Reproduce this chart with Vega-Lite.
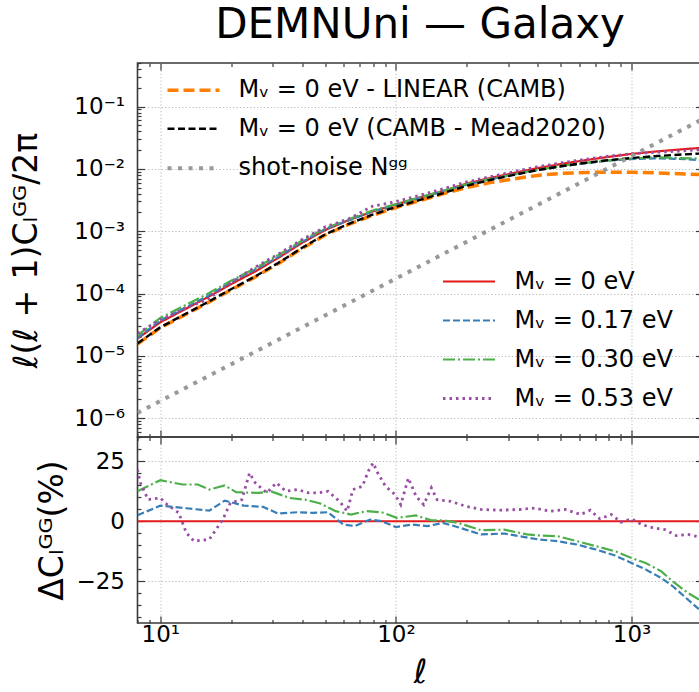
{
  "$schema": "https://vega.github.io/schema/vega-lite/v6.json",
  "autosize": {"type": "pad"},
  "padding": {"left": 9.5, "top": 3, "right": 0, "bottom": 0},
  "config": {
    "font": "DejaVu Sans",
    "view": {"stroke": "#3a3a3a", "strokeWidth": 1.6},
    "axis": {"domain": false, "labelFont": "DejaVu Sans", "labelColor": "#000000", "labelFontSize": 23, "labelOverlap": false, "labelFlush": false, "labelBound": false, "tickColor": "#3a3a3a", "tickWidth": 1.2, "gridColor": "#b0b0b0", "gridDash": [1.2, 2.2], "gridWidth": 0.9, "titleFont": "DejaVu Sans", "titleFontWeight": "normal", "titleColor": "#000000"},
    "legend": {"labelLimit": 0}
  },
  "datasets": {
    "top": [
      {"s":"R","l":8,"v":1.905e-5},{"s":"R","l":10,"v":3.467e-5},{"s":"R","l":12.59,"v":5.495e-5},{"s":"R","l":15.85,"v":8.71e-5},{"s":"R","l":19.95,"v":1.413e-4},{"s":"R","l":25.12,"v":2.239e-4},{"s":"R","l":31.62,"v":3.715e-4},{"s":"R","l":39.81,"v":6.457e-4},{"s":"R","l":50.12,"v":1.047e-3},{"s":"R","l":63.1,"v":1.514e-3},{"s":"R","l":79.43,"v":2.065e-3},{"s":"R","l":100,"v":2.692e-3},{"s":"R","l":125.9,"v":3.451e-3},{"s":"R","l":158.5,"v":4.416e-3},{"s":"R","l":199.5,"v":5.821e-3},{"s":"R","l":251.2,"v":7.161e-3},{"s":"R","l":316.2,"v":8.61e-3},{"s":"R","l":398.1,"v":1.028e-2},{"s":"R","l":501.2,"v":1.197e-2},{"s":"R","l":631,"v":1.374e-2},{"s":"R","l":794.3,"v":1.556e-2},{"s":"R","l":1000,"v":1.738e-2},{"s":"R","l":1259,"v":1.897e-2},{"s":"R","l":1585,"v":2.042e-2},{"s":"R","l":2000,"v":2.188e-2},
      {"s":"B","l":8,"v":1.954e-5},{"s":"B","l":10,"v":3.69e-5},{"s":"B","l":12.59,"v":5.794e-5},{"s":"B","l":15.85,"v":9.099e-5},{"s":"B","l":19.95,"v":1.524e-4},{"s":"B","l":25.12,"v":2.382e-4},{"s":"B","l":31.62,"v":3.837e-4},{"s":"B","l":39.81,"v":6.699e-4},{"s":"B","l":50.12,"v":1.086e-3},{"s":"B","l":63.1,"v":1.486e-3},{"s":"B","l":79.43,"v":2.075e-3},{"s":"B","l":100,"v":2.624e-3},{"s":"B","l":125.9,"v":3.396e-3},{"s":"B","l":158.5,"v":4.385e-3},{"s":"B","l":199.5,"v":5.585e-3},{"s":"B","l":251.2,"v":6.776e-3},{"s":"B","l":316.2,"v":8.11e-3},{"s":"B","l":398.1,"v":9.506e-3},{"s":"B","l":501.2,"v":1.094e-2},{"s":"B","l":631,"v":1.23e-2},{"s":"B","l":794.3,"v":1.349e-2},{"s":"B","l":1000,"v":1.435e-2},{"s":"B","l":1259,"v":1.479e-2},{"s":"B","l":1585,"v":1.449e-2},{"s":"B","l":2000,"v":1.377e-2},
      {"s":"G","l":8,"v":2.143e-5},{"s":"G","l":10,"v":4.064e-5},{"s":"G","l":12.59,"v":6.339e-5},{"s":"G","l":15.85,"v":9.886e-5},{"s":"G","l":19.95,"v":1.603e-4},{"s":"G","l":25.12,"v":2.506e-4},{"s":"G","l":31.62,"v":4.121e-4},{"s":"G","l":39.81,"v":7.031e-4},{"s":"G","l":50.12,"v":1.119e-3},{"s":"G","l":63.1,"v":1.56e-3},{"s":"G","l":79.43,"v":2.153e-3},{"s":"G","l":100,"v":2.729e-3},{"s":"G","l":125.9,"v":3.524e-3},{"s":"G","l":158.5,"v":4.436e-3},{"s":"G","l":199.5,"v":5.702e-3},{"s":"G","l":251.2,"v":6.902e-3},{"s":"G","l":316.2,"v":8.204e-3},{"s":"G","l":398.1,"v":9.661e-3},{"s":"G","l":501.2,"v":1.119e-2},{"s":"G","l":631,"v":1.25e-2},{"s":"G","l":794.3,"v":1.374e-2},{"s":"G","l":1000,"v":1.472e-2},{"s":"G","l":1259,"v":1.535e-2},{"s":"G","l":1585,"v":1.489e-2},{"s":"G","l":2000,"v":1.466e-2},
      {"s":"P","l":8,"v":2.307e-5},{"s":"P","l":10,"v":3.802e-5},{"s":"P","l":12.59,"v":5.715e-5},{"s":"P","l":15.85,"v":8.035e-5},{"s":"P","l":19.95,"v":1.521e-4},{"s":"P","l":25.12,"v":2.618e-4},{"s":"P","l":31.62,"v":4.276e-4},{"s":"P","l":39.81,"v":7.295e-4},{"s":"P","l":50.12,"v":1.175e-3},{"s":"P","l":63.1,"v":1.581e-3},{"s":"P","l":79.43,"v":2.518e-3},{"s":"P","l":100,"v":2.992e-3},{"s":"P","l":125.9,"v":3.758e-3},{"s":"P","l":158.5,"v":4.797e-3},{"s":"P","l":199.5,"v":6.18e-3},{"s":"P","l":251.2,"v":7.499e-3},{"s":"P","l":316.2,"v":9.016e-3},{"s":"P","l":398.1,"v":1.081e-2},{"s":"P","l":501.2,"v":1.25e-2},{"s":"P","l":631,"v":1.422e-2},{"s":"P","l":794.3,"v":1.596e-2},{"s":"P","l":1000,"v":1.754e-2},{"s":"P","l":1259,"v":1.849e-2},{"s":"P","l":1585,"v":1.923e-2},{"s":"P","l":2000,"v":2.046e-2},
      {"s":"O","l":8,"v":1.549e-5},{"s":"O","l":10,"v":2.818e-5},{"s":"O","l":12.59,"v":4.467e-5},{"s":"O","l":15.85,"v":7.079e-5},{"s":"O","l":19.95,"v":1.148e-4},{"s":"O","l":25.12,"v":1.82e-4},{"s":"O","l":31.62,"v":3.02e-4},{"s":"O","l":39.81,"v":5.248e-4},{"s":"O","l":50.12,"v":8.71e-4},{"s":"O","l":63.1,"v":1.288e-3},{"s":"O","l":79.43,"v":1.799e-3},{"s":"O","l":100,"v":2.399e-3},{"s":"O","l":125.9,"v":3.09e-3},{"s":"O","l":158.5,"v":3.981e-3},{"s":"O","l":199.5,"v":5.012e-3},{"s":"O","l":251.2,"v":6.026e-3},{"s":"O","l":316.2,"v":6.918e-3},{"s":"O","l":398.1,"v":7.852e-3},{"s":"O","l":501.2,"v":8.472e-3},{"s":"O","l":631,"v":8.75e-3},{"s":"O","l":794.3,"v":8.872e-3},{"s":"O","l":1000,"v":8.831e-3},{"s":"O","l":1259,"v":8.63e-3},{"s":"O","l":1585,"v":8.356e-3},{"s":"O","l":2000,"v":8.072e-3},
      {"s":"K","l":8,"v":1.585e-5},{"s":"K","l":10,"v":2.884e-5},{"s":"K","l":12.59,"v":4.571e-5},{"s":"K","l":15.85,"v":7.244e-5},{"s":"K","l":19.95,"v":1.175e-4},{"s":"K","l":25.12,"v":1.862e-4},{"s":"K","l":31.62,"v":3.09e-4},{"s":"K","l":39.81,"v":5.37e-4},{"s":"K","l":50.12,"v":8.913e-4},{"s":"K","l":63.1,"v":1.318e-3},{"s":"K","l":79.43,"v":1.841e-3},{"s":"K","l":100,"v":2.455e-3},{"s":"K","l":125.9,"v":3.162e-3},{"s":"K","l":158.5,"v":4.074e-3},{"s":"K","l":199.5,"v":5.37e-3},{"s":"K","l":251.2,"v":6.637e-3},{"s":"K","l":316.2,"v":7.998e-3},{"s":"K","l":398.1,"v":9.55e-3},{"s":"K","l":501.2,"v":1.102e-2},{"s":"K","l":631,"v":1.245e-2},{"s":"K","l":794.3,"v":1.38e-2},{"s":"K","l":1000,"v":1.496e-2},{"s":"K","l":1259,"v":1.603e-2},{"s":"K","l":1585,"v":1.69e-2},{"s":"K","l":2000,"v":1.77e-2},
      {"s":"N","l":8,"v":1.22e-6},{"s":"N","l":20,"v":7.36e-6},{"s":"N","l":50,"v":4.46e-5},{"s":"N","l":100,"v":1.74e-4},{"s":"N","l":200,"v":6.8e-4},{"s":"N","l":500,"v":4.11e-3},{"s":"N","l":1000,"v":1.61e-2},{"s":"N","l":2000,"v":6.27e-2}
    ],
    "bot": [
      {"s":"R","l":8,"d":0},{"s":"R","l":2000,"d":0},
      {"s":"B","l":8,"d":2.5},{"s":"B","l":10,"d":6.5},{"s":"B","l":12.9,"d":5.4},{"s":"B","l":16.14,"d":4.4},{"s":"B","l":18.75,"d":8.6},{"s":"B","l":22.61,"d":6.5},{"s":"B","l":27.25,"d":6.0},{"s":"B","l":31.65,"d":3.2},{"s":"B","l":38.16,"d":3.75},{"s":"B","l":44.33,"d":3.5},{"s":"B","l":51.47,"d":3.75},{"s":"B","l":59.79,"d":-1.4},{"s":"B","l":66.9,"d":-2.0},{"s":"B","l":77.68,"d":0.7},{"s":"B","l":86.94,"d":0},{"s":"B","l":100,"d":-2.4},{"s":"B","l":117.2,"d":-1.4},{"s":"B","l":136.1,"d":-2.0},{"s":"B","l":158.1,"d":-0.7},{"s":"B","l":183.6,"d":-2.5},{"s":"B","l":229.8,"d":-5.5},{"s":"B","l":287.7,"d":-5.1},{"s":"B","l":334.2,"d":-6.25},{"s":"B","l":402.9,"d":-7.6},{"s":"B","l":485.9,"d":-8.3},{"s":"B","l":586,"d":-9.7},{"s":"B","l":706.3,"d":-11.8},{"s":"B","l":851.4,"d":-14.3},{"s":"B","l":1000,"d":-17.4},{"s":"B","l":1148,"d":-20.1},{"s":"B","l":1334,"d":-23.6},{"s":"B","l":1492,"d":-27},{"s":"B","l":1670,"d":-31.25},{"s":"B","l":1925,"d":-36.5},{"s":"B","l":2000,"d":-38},
      {"s":"G","l":8,"d":12.5},{"s":"G","l":10,"d":17.1},{"s":"G","l":12.42,"d":15.3},{"s":"G","l":14.43,"d":15.3},{"s":"G","l":16.14,"d":13.2},{"s":"G","l":18.75,"d":14.9},{"s":"G","l":20.98,"d":12.1},{"s":"G","l":26.26,"d":11.8},{"s":"G","l":29.38,"d":12.5},{"s":"G","l":35.41,"d":9.7},{"s":"G","l":41.13,"d":9.0},{"s":"G","l":47.76,"d":7.4},{"s":"G","l":55.48,"d":4.2},{"s":"G","l":64.44,"d":2.8},{"s":"G","l":74.83,"d":4.2},{"s":"G","l":86.94,"d":3.75},{"s":"G","l":100.9,"d":1.4},{"s":"G","l":121.7,"d":2.4},{"s":"G","l":141.3,"d":0.4},{"s":"G","l":158.1,"d":0.4},{"s":"G","l":183.6,"d":-0.7},{"s":"G","l":229.8,"d":-3.75},{"s":"G","l":287.7,"d":-3.5},{"s":"G","l":360.1,"d":-5.5},{"s":"G","l":418.3,"d":-6.0},{"s":"G","l":485.9,"d":-6.25},{"s":"G","l":586,"d":-8.3},{"s":"G","l":706.3,"d":-10.4},{"s":"G","l":851.4,"d":-12.5},{"s":"G","l":1000,"d":-15.3},{"s":"G","l":1148,"d":-17.4},{"s":"G","l":1334,"d":-20.8},{"s":"G","l":1492,"d":-25},{"s":"G","l":1734,"d":-29.9},{"s":"G","l":1925,"d":-32.5},{"s":"G","l":2000,"d":-33.5},
      {"s":"P","l":8,"d":21.5},{"s":"P","l":8.23,"d":16},{"s":"P","l":8.87,"d":9},{"s":"P","l":10,"d":9.7},{"s":"P","l":10.7,"d":6.9},{"s":"P","l":11.97,"d":3.5},{"s":"P","l":12.9,"d":-4.9},{"s":"P","l":13.9,"d":-8.3},{"s":"P","l":14.98,"d":-7.9},{"s":"P","l":16.14,"d":-7.6},{"s":"P","l":17.4,"d":-2.8},{"s":"P","l":18.4,"d":0.7},{"s":"P","l":19.83,"d":7.6},{"s":"P","l":22.18,"d":9},{"s":"P","l":23.91,"d":20.1},{"s":"P","l":25.29,"d":16},{"s":"P","l":28.3,"d":11.8},{"s":"P","l":31.07,"d":16},{"s":"P","l":34.12,"d":12.5},{"s":"P","l":38.16,"d":13.2},{"s":"P","l":42.7,"d":11.8},{"s":"P","l":46.88,"d":11.8},{"s":"P","l":51.47,"d":12.5},{"s":"P","l":57.59,"d":8.3},{"s":"P","l":62.08,"d":4.2},{"s":"P","l":65.66,"d":13.2},{"s":"P","l":72.11,"d":14.6},{"s":"P","l":76.25,"d":20.8},{"s":"P","l":80.04,"d":24.3},{"s":"P","l":83.72,"d":20.1},{"s":"P","l":90.25,"d":14.6},{"s":"P","l":99.06,"d":11.1},{"s":"P","l":104.8,"d":6.9},{"s":"P","l":112.9,"d":18},{"s":"P","l":121.7,"d":10.4},{"s":"P","l":131.2,"d":6.9},{"s":"P","l":141.3,"d":13.9},{"s":"P","l":149.5,"d":9},{"s":"P","l":170.4,"d":8.3},{"s":"P","l":197.9,"d":6.25},{"s":"P","l":229.8,"d":4.9},{"s":"P","l":277.2,"d":4.6},{"s":"P","l":334.2,"d":4.9},{"s":"P","l":388.2,"d":5.5},{"s":"P","l":450.8,"d":4.2},{"s":"P","l":523.6,"d":4.9},{"s":"P","l":608,"d":2.8},{"s":"P","l":667.7,"d":4.6},{"s":"P","l":733.2,"d":1},{"s":"P","l":820.2,"d":2.8},{"s":"P","l":900.6,"d":-0.4},{"s":"P","l":1000,"d":1},{"s":"P","l":1106,"d":-1.4},{"s":"P","l":1238,"d":-2.8},{"s":"P","l":1385,"d":-3.5},{"s":"P","l":1549,"d":-6},{"s":"P","l":1734,"d":-5.5},{"s":"P","l":1925,"d":-6.5},{"s":"P","l":2000,"d":-7}
    ]
  },
  "vconcat": [
    {
      "width": 565,
      "height": 374,
      "title": {"text": "DEMNUni — Galaxy", "fontSize": 42, "font": "DejaVu Sans", "fontWeight": "normal", "color": "#000000", "anchor": "middle", "frame": "group", "offset": 5},
      "layer": [
        {
          "data": {"name": "top"},
          "transform": [{"filter": {"field": "s", "oneOf": ["R", "B", "G", "P"]}}],
          "mark": {"type": "line", "clip": true},
          "encoding": {
            "x": {"field": "l", "type": "quantitative", "scale": {"type": "log", "domain": [8, 2000]},
              "axis": {"orient": "bottom", "values": [8,9,10,20,30,40,50,60,70,80,90,100,200,300,400,500,600,700,800,900,1000,2000], "labels": false, "title": null, "grid": true,
                "tickSize": {"condition": {"test": "datum.value == 10 || datum.value == 100 || datum.value == 1000", "value": -7}, "value": -3.5},
                "gridOpacity": {"condition": {"test": "datum.value == 10 || datum.value == 100 || datum.value == 1000", "value": 1}, "value": 0}}},
            "y": {"field": "v", "type": "quantitative", "scale": {"type": "log", "domain": [5e-7, 0.5]},
              "axis": {"orient": "left", "values": [5e-7,6e-7,7e-7,8e-7,9e-7,1e-6,2e-6,3e-6,4e-6,5e-6,6e-6,7e-6,8e-6,9e-6,1e-5,2e-5,3e-5,4e-5,5e-5,6e-5,7e-5,8e-5,9e-5,1e-4,2e-4,3e-4,4e-4,5e-4,6e-4,7e-4,8e-4,9e-4,1e-3,2e-3,3e-3,4e-3,5e-3,6e-3,7e-3,8e-3,9e-3,1e-2,2e-2,3e-2,4e-2,5e-2,6e-2,7e-2,8e-2,9e-2,0.1,0.2,0.3,0.4,0.5],
                "grid": true, "labelPadding": 20,
                "labelExpr": "abs(log(datum.value)/LN10 - round(log(datum.value)/LN10)) < 0.001 ? '10' + ['⁻⁶','⁻⁵','⁻⁴','⁻³','⁻²','⁻¹'][round(log(datum.value)/LN10) + 6] : ''",
                "tickSize": {"condition": {"test": "abs(log(datum.value)/LN10 - round(log(datum.value)/LN10)) < 0.001", "value": -7}, "value": -3.5},
                "gridOpacity": {"condition": {"test": "abs(log(datum.value)/LN10 - round(log(datum.value)/LN10)) < 0.001", "value": 1}, "value": 0},
                "title": "ℓ(ℓ + 1)Cₗᴳᴳ/2π", "titleFontSize": 33, "titlePadding": 30}},
            "color": {"field": "s", "type": "nominal", "scale": {"domain": ["R", "B", "G", "P"], "range": ["#e41a1c", "#377eb8", "#4daf4a", "#984ea3"]},
              "legend": {"orient": "none", "legendX": 317, "legendY": 204, "title": null, "symbolType": "M-2,0H2", "symbolSize": 676, "labelFontSize": 24, "labelFont": "DejaVu Sans", "labelColor": "#000000", "labelOffset": 31, "rowPadding": 12, "padding": 0, "labelLimit": 0,
                "labelExpr": "datum.label == 'R' ? 'Mᵥ = 0 eV' : datum.label == 'B' ? 'Mᵥ = 0.17 eV' : datum.label == 'G' ? 'Mᵥ = 0.30 eV' : 'Mᵥ = 0.53 eV'"}},
            "strokeDash": {"field": "s", "type": "nominal", "scale": {"domain": ["R", "B", "G", "P"], "range": [[1, 0], [7, 3], [12, 3, 2, 3], [2.5, 4]]}},
            "strokeWidth": {"field": "s", "type": "nominal", "scale": {"type": "ordinal", "domain": ["R", "B", "G", "P"], "range": [2.2, 2.2, 2.2, 2.8]}}
          }
        },
        {
          "data": {"name": "top"},
          "transform": [{"filter": {"field": "s", "oneOf": ["O", "K", "N"]}}],
          "mark": {"type": "line", "clip": true},
          "encoding": {
            "x": {"field": "l", "type": "quantitative", "scale": {"type": "log", "domain": [8, 2000]}, "axis": null},
            "y": {"field": "v", "type": "quantitative", "scale": {"type": "log", "domain": [5e-7, 0.5]}, "axis": null},
            "color": {"field": "s", "type": "nominal", "scale": {"domain": ["O", "K", "N"], "range": ["#ff7f00", "#000000", "#999999"]},
              "legend": {"orient": "none", "legendX": 41, "legendY": 12.2, "title": null, "symbolType": "M-2,0H2", "symbolSize": 676, "labelFontSize": 24, "labelFont": "DejaVu Sans", "labelColor": "#000000", "labelOffset": 30, "rowPadding": 12, "padding": 0, "labelLimit": 0,
                "labelExpr": "datum.label == 'O' ? 'Mᵥ = 0 eV - LINEAR (CAMB)' : datum.label == 'K' ? 'Mᵥ = 0 eV (CAMB - Mead2020)' : 'shot-noise Nᵍᵍ'"}},
            "strokeDash": {"field": "s", "type": "nominal", "scale": {"domain": ["O", "K", "N"], "range": [[11, 5], [7, 3.5], [4, 6.5]]}},
            "strokeWidth": {"field": "s", "type": "nominal", "scale": {"type": "ordinal", "domain": ["O", "K", "N"], "range": [3.5, 2.4, 4]}}
          }
        },
        {
          "data": {"name": "top"},
          "mark": {"type": "point", "opacity": 0},
          "encoding": {
            "x": {"field": "l", "type": "quantitative", "scale": {"type": "log", "domain": [8, 2000]},
              "axis": {"orient": "top", "values": [8,9,10,20,30,40,50,60,70,80,90,100,200,300,400,500,600,700,800,900,1000,2000], "labels": false, "title": null, "grid": false,
                "tickSize": {"condition": {"test": "datum.value == 10 || datum.value == 100 || datum.value == 1000", "value": -7}, "value": -3.5}}},
            "y": {"field": "v", "type": "quantitative", "scale": {"type": "log", "domain": [5e-7, 0.5]},
              "axis": {"orient": "right", "values": [5e-7,6e-7,7e-7,8e-7,9e-7,1e-6,2e-6,3e-6,4e-6,5e-6,6e-6,7e-6,8e-6,9e-6,1e-5,2e-5,3e-5,4e-5,5e-5,6e-5,7e-5,8e-5,9e-5,1e-4,2e-4,3e-4,4e-4,5e-4,6e-4,7e-4,8e-4,9e-4,1e-3,2e-3,3e-3,4e-3,5e-3,6e-3,7e-3,8e-3,9e-3,1e-2,2e-2,3e-2,4e-2,5e-2,6e-2,7e-2,8e-2,9e-2,0.1,0.2,0.3,0.4,0.5], "labels": false, "title": null, "grid": false,
                "tickSize": {"condition": {"test": "abs(log(datum.value)/LN10 - round(log(datum.value)/LN10)) < 0.001", "value": -7}, "value": -3.5}}}
          }
        }
      ],
      "resolve": {"scale": {"color": "independent", "strokeDash": "independent", "strokeWidth": "independent"}, "axis": {"x": "independent", "y": "independent"}, "legend": {"color": "independent", "strokeDash": "independent", "strokeWidth": "independent"}}
    },
    {
      "width": 565,
      "height": 186,
      "layer": [
        {
          "data": {"name": "bot"},
          "mark": {"type": "line", "clip": true},
          "encoding": {
            "x": {"field": "l", "type": "quantitative", "scale": {"type": "log", "domain": [8, 2000]},
              "axis": {"orient": "bottom", "values": [8,9,10,20,30,40,50,60,70,80,90,100,200,300,400,500,600,700,800,900,1000,2000], "grid": true, "labelPadding": 7.5,
                "labelExpr": "datum.value == 10 ? '10¹' : datum.value == 100 ? '10²' : datum.value == 1000 ? '10³' : ''",
                "tickSize": {"condition": {"test": "datum.value == 10 || datum.value == 100 || datum.value == 1000", "value": -7}, "value": -3.5},
                "gridOpacity": {"condition": {"test": "datum.value == 10 || datum.value == 100 || datum.value == 1000", "value": 1}, "value": 0},
                "title": "ℓ", "titleFontSize": 33, "titleFontStyle": "italic", "titlePadding": 6}},
            "y": {"field": "d", "type": "quantitative", "scale": {"domain": [-42.4, 35.1], "nice": false, "zero": false},
              "axis": {"orient": "left", "values": [-40,-35,-30,-25,-20,-15,-10,-5,0,5,10,15,20,25,30,35], "grid": true, "labelPadding": 20,
                "labelExpr": "datum.value % 25 == 0 ? replace(format(datum.value, 'd'), '-', '−') : ''",
                "tickSize": {"condition": {"test": "datum.value % 25 == 0", "value": -7}, "value": -3.5},
                "gridOpacity": {"condition": {"test": "datum.value % 25 == 0", "value": 1}, "value": 0},
                "title": "ΔCₗᴳᴳ(%)", "titleFontSize": 33, "titlePadding": 6}},
            "color": {"field": "s", "type": "nominal", "scale": {"domain": ["R", "B", "G", "P"], "range": ["#e41a1c", "#377eb8", "#4daf4a", "#984ea3"]}, "legend": null},
            "strokeDash": {"field": "s", "type": "nominal", "scale": {"domain": ["R", "B", "G", "P"], "range": [[1, 0], [7, 3], [12, 3, 2, 3], [2.5, 4]]}, "legend": null},
            "strokeWidth": {"field": "s", "type": "nominal", "scale": {"type": "ordinal", "domain": ["R", "B", "G", "P"], "range": [2.2, 2.2, 2.2, 2.8]}, "legend": null}
          }
        },
        {
          "data": {"name": "bot"},
          "mark": {"type": "point", "opacity": 0},
          "encoding": {
            "x": {"field": "l", "type": "quantitative", "scale": {"type": "log", "domain": [8, 2000]},
              "axis": {"orient": "top", "values": [8,9,10,20,30,40,50,60,70,80,90,100,200,300,400,500,600,700,800,900,1000,2000], "labels": false, "title": null, "grid": false,
                "tickSize": {"condition": {"test": "datum.value == 10 || datum.value == 100 || datum.value == 1000", "value": -7}, "value": -3.5}}},
            "y": {"field": "d", "type": "quantitative", "scale": {"domain": [-42.4, 35.1], "nice": false, "zero": false},
              "axis": {"orient": "right", "values": [-40,-35,-30,-25,-20,-15,-10,-5,0,5,10,15,20,25,30,35], "labels": false, "title": null, "grid": false,
                "tickSize": {"condition": {"test": "datum.value % 25 == 0", "value": -7}, "value": -3.5}}}
          }
        }
      ],
      "resolve": {"axis": {"x": "independent", "y": "independent"}}
    }
  ],
  "spacing": 0,
  "bounds": "flush",
  "resolve": {"scale": {"color": "independent", "strokeDash": "independent", "strokeWidth": "independent"}, "legend": {"color": "independent", "strokeDash": "independent", "strokeWidth": "independent"}}
}
